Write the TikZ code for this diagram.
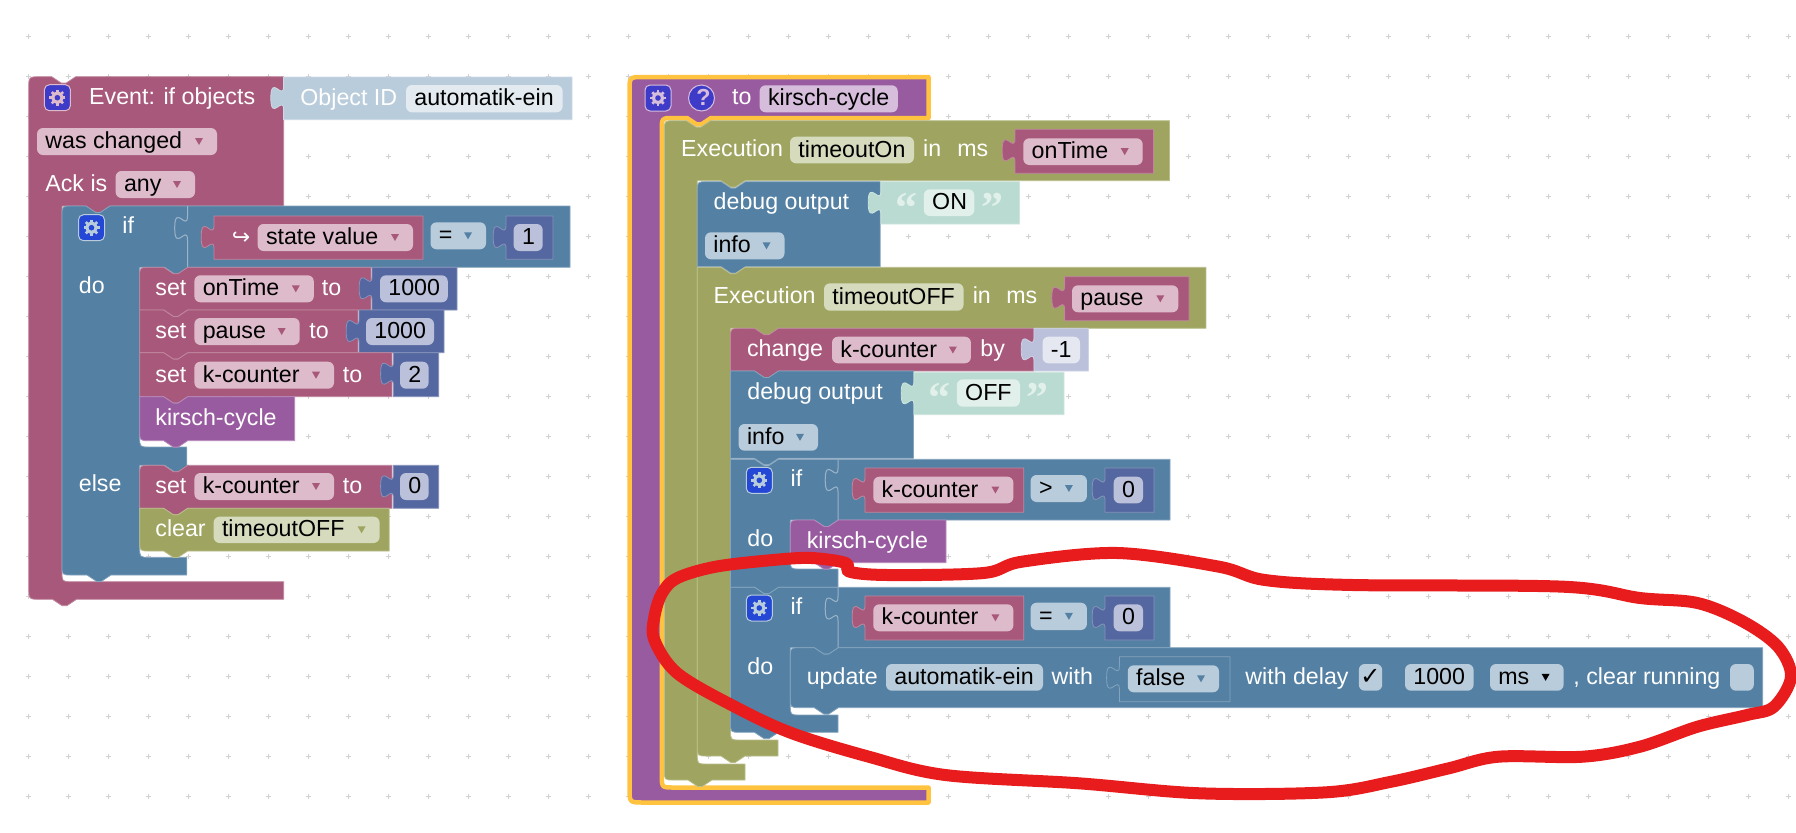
\documentclass[tikz,border=0pt]{standalone}
\usepackage{fontspec}
\setmainfont{Liberation Sans}
\newfontfamily\symbolfont{DejaVu Sans}
\newfontfamily\quotefont{Liberation Serif}
\usepackage{tikz}
\usepackage{xcolor}

\definecolor{varcol}{HTML}{A8587A}
\definecolor{varpill}{HTML}{DEBBCB}
\definecolor{logiccol}{HTML}{5480A3}
\definecolor{logicpill}{HTML}{B9CCDB}
\definecolor{funcol}{HTML}{995BA0}
\definecolor{funpill}{HTML}{D6BDDB}
\definecolor{timecol}{HTML}{9FA560}
\definecolor{timepill}{HTML}{D6DBBE}
\definecolor{mathcol}{HTML}{5567A0}
\definecolor{mathpill}{HTML}{BBC1DB}
\definecolor{textcol}{HTML}{BADBD1}
\definecolor{textpill}{HTML}{E2F0EB}
\definecolor{idpill}{HTML}{E3EBF1}
\definecolor{minuspill}{HTML}{E5E7F1}
\definecolor{gearpurple}{HTML}{3F3BC9}
\definecolor{gearblue}{HTML}{2447D6}
\definecolor{ringyellow}{HTML}{FFC340}
\definecolor{penred}{HTML}{E81C1C}

\newcommand{\blockfont}{\fontsize{11.6}{14}\selectfont}

\tikzset{
  griddot/.style={draw=black!18, line width=.5pt},
  blk/.style={fill=#1, draw=#1!72!white, line width=.4pt, line join=round},
  lbl/.style={anchor=base west, inner sep=0pt, yshift=-3.5pt, font=\blockfont, text=white},
  fieldtext/.style={lbl, text=black},
  quotemark/.style={anchor=base, inner sep=0pt, font=\quotefont\bfseries\fontsize{22}{22}\selectfont, text=textpill},
  socket/.style={draw=logicpill!70!logiccol, line width=.5pt},
  redloop/.style={draw=penred, line width=6pt, line join=round},
}

\def\topnotch#1#2{-- (#1,#2) -- ++(9.6,6.4) -- ++(4.8,0) -- ++(9.6,-6.4)}
\def\bottab#1#2{-- (#1,#2) -- ++(-9.6,6.4) -- ++(-4.8,0) -- ++(-9.6,-6.4)}
\def\plugdown#1#2{.. controls (#1,#2+16) and (#1-12.8,#2-12.8) .. (#1-12.8,#2+12) .. controls (#1-12.8,#2+36.8) and (#1,#2+8) .. (#1,#2+24)}

\newcommand{\stmtbox}[7]{\draw[blk=#1] (#2,#3+#6) .. controls (#2,#3) .. (#2+#6,#3) \topnotch{#2+24}{#3} -- (#4,#3) -- (#4,#5) \bottab{#2+48}{#5} -- (#2+#7,#5) .. controls (#2,#5) .. (#2,#5-#7) -- cycle;}
\newcommand{\valbox}[5]{\draw[blk=#1] (#2,#3) -- (#2,#3+9) \plugdown{#2}{#3+9} -- (#2,#5) -- (#4,#5) -- (#4,#3) -- cycle;}
\newcommand{\plainfield}[6]{\fill[#5, rounded corners=3pt] (#1,#2) rectangle (#3,#4);
  \node[fieldtext] at (#1+8,{(#2+#4)/2}) {#6};}
\newcommand{\dropfield}[7]{\plainfield{#1}{#2}{#3}{#4}{#5}{#6}
  \fill[#7] (#3-22,{(#2+#4)/2-3.5}) -- (#3-14,{(#2+#4)/2-3.5}) -- (#3-18,{(#2+#4)/2+3.5}) -- cycle;}
\newcommand{\lbl}[3]{\node[lbl] at (#1,#2) {#3};}
\newcommand{\gearicon}[4]{\draw[fill=#3, draw=#4, line width=.5pt, rounded corners=2.5pt] (#1,#2) rectangle (#1+26,#2+26);
  \begin{scope}[shift={(#1+13,#2+13)}]
    \foreach \a in {0,45,...,315} \draw[#4, line width=1.3pt] (0,0) -- (\a:8);
    \fill[#4] (0,0) circle (3pt);
    \fill[#3] (0,0) circle (1.4pt);
  \end{scope}}
\newcommand{\slotmark}[4]{\draw[socket] (#1,#2) -- (#1,#3) \plugdown{#1}{#3} -- (#1,#4);}

\begin{document}
\begin{tikzpicture}[>=stealth, x=.5pt, y=-.5pt]
  \useasboundingbox (0,0) rectangle (1796,832);

  \foreach \i in {0,...,44} \foreach \j in {0,...,19} {
    \draw[griddot] ({28.8+40*\i-2.5},{36.7+40*\j}) -- ++(5,0);
    \draw[griddot] ({28.8+40*\i},{36.7+40*\j-2.5}) -- ++(0,5);
  }

  \draw[blk=varcol] (28.7,88.7) .. controls (28.7,76.7) .. (40.7,76.7) \topnotch{51.7}{76.7} -- (283.6,76.7) -- (283.6,206) \bottab{110}{206} -- (62,206) -- (62,571.7) .. controls (62,581.7) .. (72,581.7) -- (283.6,581.7) -- (283.6,599.3) \bottab{76.5}{599.3} -- (40.7,599.3) .. controls (28.7,599.3) .. (28.7,587.3) -- cycle;
  \gearicon{44.4}{84.7}{gearpurple}{varpill}
  \lbl{88.8}{97.7}{Event: if objects}
  \valbox{logicpill}{283.6}{77}{572}{119.7}
  \lbl{300}{98.7}{Object ID}
  \plainfield{406}{85}{562.6}{112.3}{idpill}{automatik-ein}
  \dropfield{37}{128}{217}{155}{varpill}{was changed}{varcol}
  \lbl{45}{184.5}{Ack is}
  \dropfield{115.6}{171}{195}{198}{varpill}{any}{varcol}

  \draw[blk=logiccol] (62,216) .. controls (62,206) .. (72,206) \topnotch{86}{206} -- (570,206) -- (570,267.3) \bottab{188.7}{267.3} -- (139.7,267.3) -- (139.7,437) .. controls (139.7,447) .. (149.7,447) -- (186.8,447) -- (186.8,465.3) \bottab{188.7}{465.3} -- (139.7,465.3) -- (139.7,547.3) .. controls (139.7,557.3) .. (149.7,557.3) -- (186.8,557.3) -- (186.8,575) \bottab{111}{575} -- (72,575) .. controls (62,575) .. (62,565) -- cycle;
  \slotmark{187.5}{206}{216}{267.3}
  \gearicon{78.5}{214.7}{gearblue}{logicpill}
  \lbl{122}{226.7}{if}
  \lbl{78.5}{286}{do}
  \lbl{78.5}{484}{else}
  \valbox{varcol}{214}{216}{423}{259.3}
  \node[lbl, font={\symbolfont\fontsize{11}{14}\selectfont}] at (231.5,237.5) {↪};
  \dropfield{257.6}{224}{413}{251}{varpill}{state value}{varcol}
  \dropfield{430.5}{222.3}{486}{249.3}{logicpill}{=}{logiccol}
  \valbox{mathcol}{506}{216}{553}{259.3}
  \plainfield{513.6}{224}{542.7}{251}{mathpill}{1}

  \stmtbox{varcol}{139.7}{267.3}{371}{310}{10}{0}
  \lbl{155}{288.8}{set}
  \dropfield{194.4}{275.3}{313.8}{302.3}{varpill}{onTime}{varcol}
  \lbl{321.5}{288.8}{to}
  \valbox{mathcol}{372}{267.3}{457}{310}
  \plainfield{380}{275.3}{447.8}{302.3}{mathpill}{1000}

  \stmtbox{varcol}{139.7}{310}{358}{352.7}{0}{0}
  \lbl{155}{331.5}{set}
  \dropfield{194.4}{318}{299.7}{345}{varpill}{pause}{varcol}
  \lbl{309}{331.5}{to}
  \valbox{mathcol}{359}{310}{444}{352.7}
  \plainfield{366}{318}{434}{345}{mathpill}{1000}

  \stmtbox{varcol}{139.7}{352.7}{392}{396.7}{0}{0}
  \lbl{155}{375.2}{set}
  \dropfield{194.4}{361.7}{334}{388.7}{varpill}{k-counter}{varcol}
  \lbl{342.5}{375.2}{to}
  \valbox{mathcol}{393.4}{352.7}{438.6}{396.7}
  \plainfield{400}{361.7}{428.6}{388.7}{mathpill}{2}

  \stmtbox{funcol}{139.7}{396.7}{294.7}{440.7}{0}{10}
  \lbl{155}{418.7}{kirsch-cycle}

  \stmtbox{varcol}{139.7}{465.3}{392}{508.3}{10}{0}
  \lbl{155}{486.5}{set}
  \dropfield{194.4}{473}{334}{500}{varpill}{k-counter}{varcol}
  \lbl{342.5}{486.5}{to}
  \valbox{mathcol}{393.4}{465.3}{438.6}{508.3}
  \plainfield{400}{473}{428.6}{500}{mathpill}{0}

  \stmtbox{timecol}{139.7}{508.3}{389.2}{551}{0}{10}
  \lbl{155}{529.8}{clear}
  \dropfield{213.6}{516.7}{379.6}{543}{timepill}{timeoutOFF}{timecol}

  \draw[fill=funcol, draw=ringyellow, line width=2.25pt, line join=round] (629.5,91) .. controls (629.5,77) .. (643.5,77) -- (928.5,77) -- (928.5,118) \bottab{711}{118} -- (673.8,118) .. controls (661.8,118) .. (661.8,130) -- (661.8,775.5) .. controls (661.8,787.5) .. (673.8,787.5) -- (928.5,787.5) -- (928.5,802.5) -- (643.5,802.5) .. controls (629.5,802.5) .. (629.5,788.5) -- cycle;
  \gearicon{645}{85}{gearpurple}{funpill}
  \draw[fill=gearpurple, draw=funpill, line width=.5pt] (701.5,98) circle (6.5pt);
  \node[lbl, text=funpill, font={\blockfont\bfseries}] at (696,98) {?};
  \lbl{731.7}{97.7}{to}
  \plainfield{759.6}{85.3}{897.8}{112.3}{funpill}{kirsch-cycle}

  \draw[blk=timecol] (664.3,130.7) .. controls (664.3,120.7) .. (674.3,120.7) \topnotch{686.5}{120.7} -- (1169.5,120.7) -- (1169.5,180.7) \bottab{745}{180.7} -- (697.3,180.7) -- (697.3,754) .. controls (697.3,764) .. (707.3,764) -- (745,764) -- (745,780) \bottab{712}{780} -- (674.3,780) .. controls (664.3,780) .. (664.3,770) -- cycle;
  \lbl{680.8}{149.3}{Execution}
  \plainfield{790}{136.7}{914}{163.3}{timepill}{timeoutOn}
  \lbl{922.7}{149.3}{in}
  \lbl{957}{149.3}{ms}
  \valbox{varcol}{1015}{129.3}{1153.4}{173.3}
  \dropfield{1023.3}{138.3}{1142.7}{165}{varpill}{onTime}{varcol}

  \stmtbox{logiccol}{697.3}{181.7}{880.2}{266.7}{10}{0}
  \lbl{713.3}{202.3}{debug output}
  \valbox{textcol}{881}{181.7}{1019.5}{224}
  \node[quotemark] at (906.6,222) {“};
  \plainfield{923.8}{189.3}{974.3}{216}{textpill}{ON}
  \node[quotemark] at (992,222) {”};
  \dropfield{705}{232.3}{784.5}{259.3}{logicpill}{info}{logiccol}

  \draw[blk=timecol] (697.3,267.3) \topnotch{721}{267.3} -- (1205.9,267.3) -- (1205.9,328.3) \bottab{778.5}{328.3} -- (730.5,328.3) -- (730.5,730) .. controls (730.5,740) .. (740.5,740) -- (778,740) -- (778,756) \bottab{745}{756} -- (707.3,756) .. controls (697.3,756) .. (697.3,746) -- cycle;
  \lbl{713.3}{296}{Execution}
  \plainfield{824}{283.3}{963.6}{310.7}{timepill}{timeoutOFF}
  \lbl{972.4}{296}{in}
  \lbl{1006}{296}{ms}
  \valbox{varcol}{1064.6}{276.7}{1189}{320.7}
  \dropfield{1072}{285.3}{1178.3}{312.3}{varpill}{pause}{varcol}

  \stmtbox{varcol}{730.5}{328.3}{1034}{371}{10}{0}
  \lbl{746.6}{349.5}{change}
  \dropfield{832}{336.7}{970.9}{363.3}{varpill}{k-counter}{varcol}
  \lbl{980}{349.5}{by}
  \valbox{mathpill}{1034}{328.3}{1088.4}{371}
  \plainfield{1042.5}{336.7}{1080}{363.3}{minuspill}{-1}

  \stmtbox{logiccol}{730.5}{371}{913.5}{458.3}{0}{0}
  \lbl{747}{392.3}{debug output}
  \valbox{textcol}{914}{372.3}{1064}{414.7}
  \node[quotemark] at (939.6,412) {“};
  \plainfield{956.8}{379.3}{1020}{406.7}{textpill}{OFF}
  \node[quotemark] at (1037,412) {”};
  \dropfield{738.6}{424}{818}{450.7}{logicpill}{info}{logiccol}

  \draw[blk=logiccol] (730.5,459.3) \topnotch{754.5}{459.3} -- (1170,459.3) -- (1170,520) \bottab{838.3}{520} -- (790.3,520) -- (790.3,559) .. controls (790.3,569) .. (800.3,569) -- (838,569) -- (838,587.3) \bottab{778.5}{587.3} -- (730.5,587.3) -- cycle;
  \slotmark{838}{459.3}{468}{520}
  \gearicon{746.3}{467.3}{gearblue}{logicpill}
  \lbl{790.3}{479.3}{if}
  \lbl{747}{539.3}{do}
  \valbox{varcol}{865}{468}{1023.7}{512.3}
  \dropfield{873.3}{476.7}{1013.4}{503.3}{varpill}{k-counter}{varcol}
  \dropfield{1030.6}{475}{1086.9}{502}{logicpill}{>}{logiccol}
  \valbox{mathcol}{1105}{468}{1153.9}{512.3}
  \plainfield{1113.7}{476.7}{1143}{503.3}{mathpill}{0}

  \stmtbox{funcol}{790.3}{520}{946}{562.7}{10}{10}
  \lbl{806.4}{541.3}{kirsch-cycle}

  \draw[blk=logiccol] (730.5,587.3) \topnotch{754.5}{587.3} -- (1170,587.3) -- (1170,647.7) \bottab{838.3}{647.7} -- (790.3,647.7) -- (790.3,705) .. controls (790.3,715) .. (800.3,715) -- (838,715) -- (838,732.3) \bottab{778.5}{732.3} -- (740.5,732.3) .. controls (730.5,732.3) .. (730.5,722.3) -- cycle;
  \slotmark{838}{587.3}{596.5}{647.7}
  \gearicon{746.3}{595}{gearblue}{logicpill}
  \lbl{790.3}{607.7}{if}
  \lbl{747}{667.3}{do}
  \valbox{varcol}{865}{596}{1023.7}{640}
  \dropfield{873.3}{604.3}{1013.4}{631.3}{varpill}{k-counter}{varcol}
  \dropfield{1030.6}{602.7}{1086.9}{630}{logicpill}{=}{logiccol}
  \valbox{mathcol}{1105}{596}{1153.9}{640}
  \plainfield{1113.7}{604.3}{1143}{631.3}{mathpill}{0}

  \stmtbox{logiccol}{790.3}{647.7}{1762.6}{707.7}{10}{10}
  \lbl{806.4}{677.3}{update}
  \plainfield{886}{664}{1043}{690.7}{logicpill}{automatik-ein}
  \lbl{1051.3}{677.3}{with}
  \valbox{logiccol}{1119.4}{656.7}{1229.9}{701.7}
  \dropfield{1127.8}{665.3}{1219}{692.3}{logicpill}{false}{logiccol}
  \lbl{1245}{677.3}{with delay}
  \fill[logicpill, rounded corners=3pt] (1358.8,664) rectangle (1382.2,690.7);
  \node[fieldtext, anchor=base, font={\symbolfont\fontsize{12}{14}\selectfont}] at (1370.5,677.3) {✓};
  \plainfield{1405}{664}{1473.6}{690.7}{logicpill}{1000}
  \dropfield{1490}{664}{1563.6}{690.7}{logicpill}{ms}{black}
  \lbl{1573}{677.3}{, clear running}
  \fill[logicpill, rounded corners=3pt] (1730,664) rectangle (1753.8,690.7);

  \draw[redloop] plot[smooth cycle, tension=.55] coordinates {(677.4,578) (715.7,566.7) (773,560) (811.4,558) (845.8,563) (849.6,571.7) (888,575) (983.6,573) (1021.8,561.7) (1117.5,553) (1219,566.7) (1265,580) (1353,585) (1563.6,586.7) (1640,598) (1697.5,603) (1743.4,621.7) (1778,646.7) (1791,676.7) (1774,706.7) (1747,715) (1697.5,726.7) (1640,746.7) (1582.7,756.7) (1498.5,756.7) (1448.8,768.3) (1391.3,781.7) (1326.3,792.3) (1200,793.3) (1079,783.3) (945.3,775) (868.8,756.7) (792.2,733.3) (734.8,706.7) (677.4,673.3) (654.4,640) (654.4,616.7) (662,593.3)};
\end{tikzpicture}
\end{document}
